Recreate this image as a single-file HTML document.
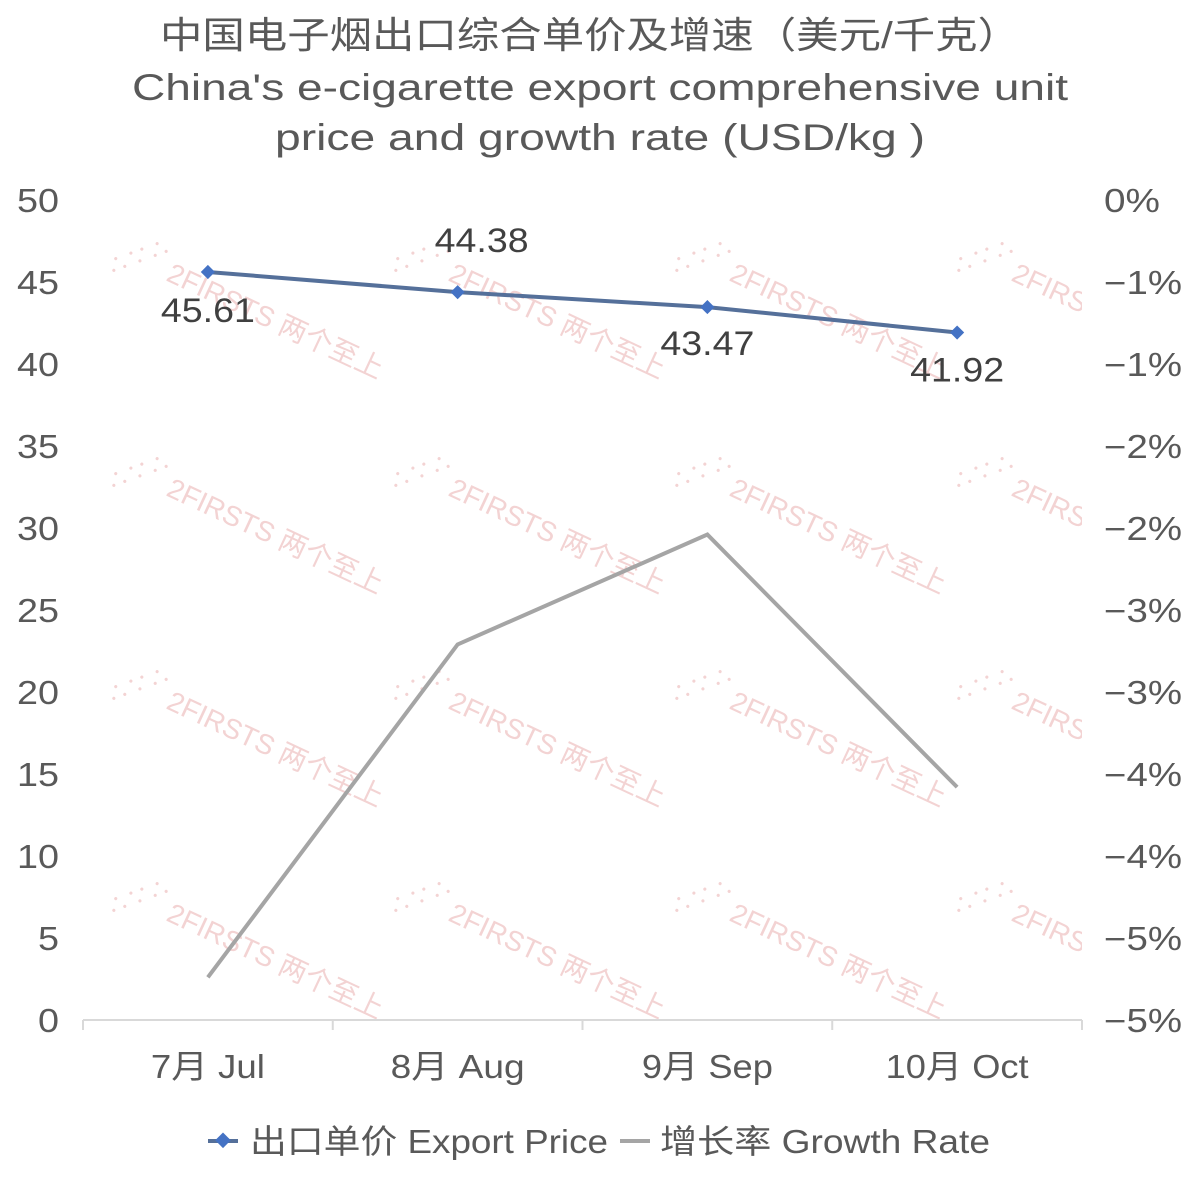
<!DOCTYPE html>
<html><head><meta charset="utf-8"><style>
body{margin:0;background:#fff;}
svg text{font-family:"Liberation Sans","Noto Sans CJK SC",sans-serif;}
</style></head><body>
<svg id="chart" width="1200" height="1188" xmlns="http://www.w3.org/2000/svg">
<rect width="1200" height="1188" fill="#fff"/>
<g fill="#595959" font-size="37">
<text x="160" y="48" textLength="860" lengthAdjust="spacingAndGlyphs">中国电子烟出口综合单价及增速（美元/千克）</text>
<text x="132" y="100" textLength="936" lengthAdjust="spacingAndGlyphs">China's e-cigarette export comprehensive unit</text>
<text x="275" y="150" textLength="650" lengthAdjust="spacingAndGlyphs">price and growth rate (USD/kg )</text>
</g>
<g id="wm"></g>
<g id="axes"></g>
<g id="marks"></g>
<g font-size="33" fill="#595959">
<line x1="208" y1="1141" x2="238" y2="1141" stroke="#55709a" stroke-width="4"/>
<rect x="217" y="1135" width="11" height="11" fill="#4472c4" transform="rotate(45 223 1141)"/>
<text x="250" y="1153" textLength="358" lengthAdjust="spacingAndGlyphs">出口单价 Export Price</text>
<line x1="620" y1="1141" x2="650" y2="1141" stroke="#a5a5a5" stroke-width="4"/>
<text x="660" y="1153" textLength="330" lengthAdjust="spacingAndGlyphs">增长率 Growth Rate</text>
</g>
</svg>
<script>
const categories=["7月 Jul","8月 Aug","9月 Sep","10月 Oct"];
const price=[45.61,44.38,43.47,41.92];
const growth=[-4.74,-2.71,-2.04,-3.58];
const leftTicks=[0,5,10,15,20,25,30,35,40,45,50];
const rightTicks=[-5,-4.5,-4,-3.5,-3,-2.5,-2,-1.5,-1,-0.5,0];
const catLabelWidths=[114,134,131,143];
const NS="http://www.w3.org/2000/svg";
const x0=83,x1=1082,yb=1020,yt=200;
const xs=i=>x0+(i+0.5)*(x1-x0)/categories.length;
const yl=v=>yb-v/50*(yb-yt);
const yr=v=>yb-(v+5)/5*(yb-yt);
function mk(t,a,p,txt){const e=document.createElementNS(NS,t);for(const k in a)e.setAttribute(k,a[k]);if(txt!=null)e.textContent=txt;p.appendChild(e);return e;}
const wm=document.getElementById('wm'),ax=document.getElementById('axes'),mr=document.getElementById('marks');
[[110,245],[392,245],[673,245],[955,245],[110,460],[392,460],[673,460],[955,460],[110,673],[392,673],[673,673],[955,673],[110,885],[392,885],[673,885],[955,885]].forEach(p=>{
 const t=mk('text',{x:p[0]+55,y:p[1]+35,'font-size':28,fill:'#f3d3d3',transform:`rotate(25 ${p[0]+55} ${p[1]+35})`},wm,'2FIRSTS 两个至上');
 
 
 const d=mk('text',{x:p[0],y:p[1]+30,'font-size':22,fill:'#f3d3d3',transform:`rotate(-20 ${p[0]} ${p[1]+30})`},wm,'∴∵∴');
 
 
});
if(true){const c=mk('rect',{x:1082,y:230,width:118,height:800,fill:'#fff'},wm);}
const base=mk('line',{x1:x0,y1:yb,x2:x1,y2:yb,stroke:'#d9d9d9','stroke-width':2},ax);


for(let i=0;i<=categories.length;i++){const x=x0+i*(x1-x0)/categories.length;const l=mk('line',{x1:x,y1:yb,x2:x,y2:yb+10,stroke:'#d9d9d9','stroke-width':2},ax);}
categories.forEach((c,i)=>{const t=mk('text',{x:xs(i),y:1078,'font-size':33,fill:'#595959','text-anchor':'middle',textLength:catLabelWidths[i],lengthAdjust:'spacingAndGlyphs'},ax,c);});
leftTicks.forEach(v=>{const s=String(v);const t=mk('text',{x:59,y:yl(v)+12,'font-size':33,fill:'#595959','text-anchor':'end',textLength:s.length*21,lengthAdjust:'spacingAndGlyphs'},ax,s);});
rightTicks.forEach(v=>{const s=v===0?'0%':'−'+Math.round(Math.abs(v))+'%';const t=mk('text',{x:1104,y:yr(v)+12,'font-size':33,fill:'#595959',textLength:v===0?56:78,lengthAdjust:'spacingAndGlyphs'},ax,s);});
const gl=mk('polyline',{points:growth.map((v,i)=>xs(i)+','+yr(v)).join(' '),fill:'none',stroke:'#a5a5a5','stroke-width':4},mr);


const pl=mk('polyline',{points:price.map((v,i)=>xs(i)+','+yl(v)).join(' '),fill:'none',stroke:'#55709a','stroke-width':4},mr);


const off=[38,-52,36,37];
price.forEach((v,i)=>{const x=xs(i),y=yl(v);
 const d=mk('rect',{x:x-5,y:y-5,width:10,height:10,fill:'#4472c4',transform:`rotate(45 ${x} ${y})`},mr);
 
 
 const t=mk('text',{x:x+(i===1?24:0),y:y+off[i]+12,'font-size':34,fill:'#404040','text-anchor':'middle',textLength:94,lengthAdjust:'spacingAndGlyphs'},mr,v.toFixed(2));
 
 
});
</script>
</body></html>
